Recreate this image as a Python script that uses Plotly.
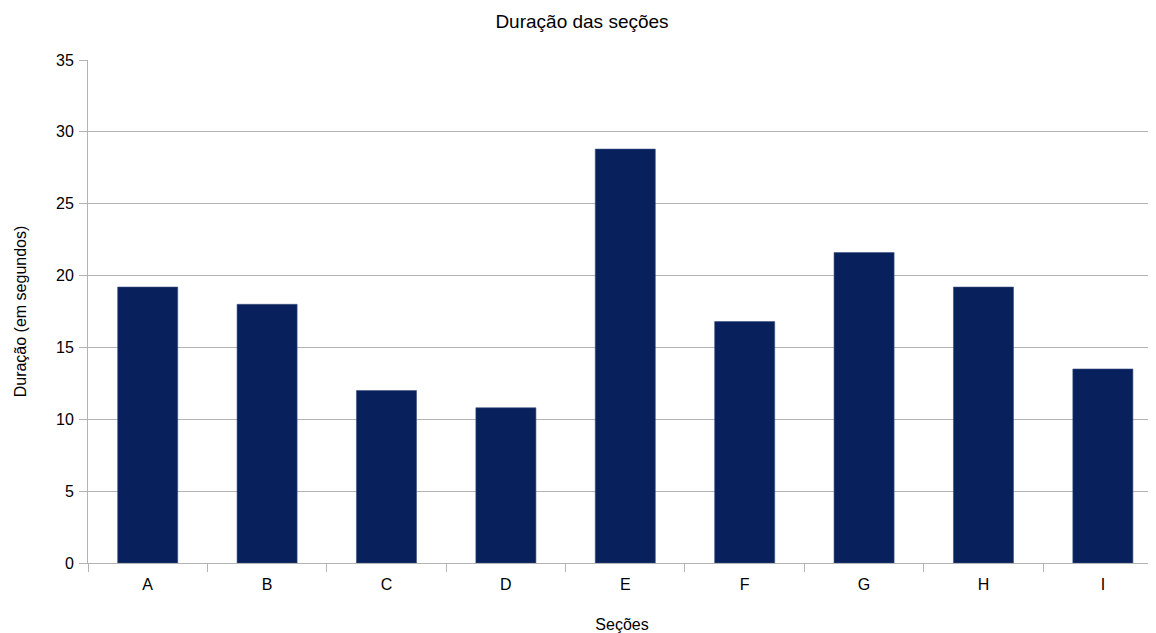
import plotly.graph_objects as go

categories = ["A", "B", "C", "D", "E", "F", "G", "H", "I"]
durations = [19.2, 18.0, 12.0, 10.8, 28.8, 16.8, 21.6, 19.2, 13.5]
y_ticks = [0, 5, 10, 15, 20, 25, 30, 35]

fig = go.Figure(go.Bar(
    x=categories, y=durations,
    marker=dict(color="#08215d", line=dict(color="#3a5080", width=0.6)),
))

font_family = "Liberation Sans, Arial, sans-serif"
fig.update_layout(
    width=1148, height=625,
    margin=dict(l=80, r=0, t=52, b=70),
    paper_bgcolor="white", plot_bgcolor="white",
    bargap=0.497,
    showlegend=False,
    font=dict(family=font_family, color="#000000"),
    title=dict(text="Duração das seções", x=0.5, xanchor="center", y=0.979, yanchor="middle",
               font=dict(size=19, family=font_family, color="#000000")),
    xaxis=dict(
        range=[-0.5, 8.445],
        showgrid=False, showline=True, linecolor="#b3b3b3", linewidth=1,
        ticks="outside", tickson="boundaries", ticklen=8, tickcolor="#b3b3b3",
        ticklabelstandoff=7,
        tickfont=dict(size=16), title=dict(text="Seções", font=dict(size=16), standoff=28),
    ),
    yaxis=dict(
        range=[0, 35], tickvals=y_ticks, showgrid=True, gridcolor="#b3b3b3", gridwidth=1,
        showline=True, linecolor="#b3b3b3", linewidth=1, zeroline=False,
        ticks="outside", ticklen=8, tickcolor="#b3b3b3",
        ticklabelstandoff=2,
        tickfont=dict(size=16), title=dict(text="Duração (em segundos)", font=dict(size=16), standoff=25),
    ),
)

fig.write_html("out.html")
